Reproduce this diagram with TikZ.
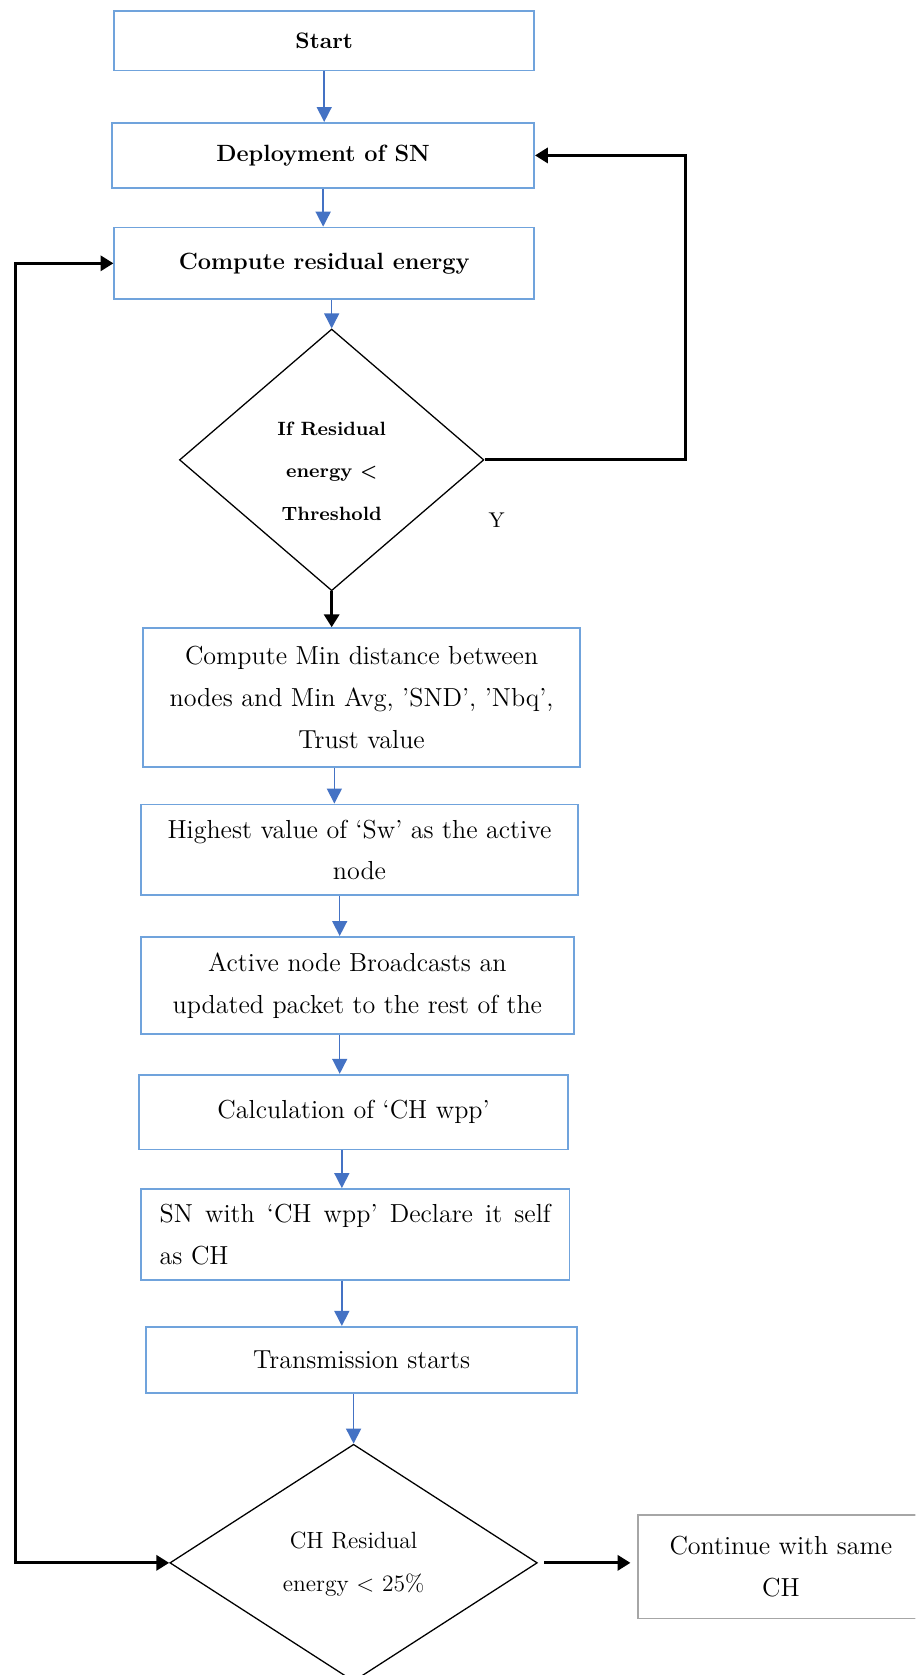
\documentclass[tikz,border=0pt]{standalone}
\usetikzlibrary{shapes.geometric,arrows.meta,calc}
\definecolor{boxblue}{RGB}{112,163,220}
\definecolor{arrblue}{RGB}{68,114,196}
\definecolor{boxgray}{RGB}{166,166,166}
\tikzset{
 box/.style={draw=boxblue,line width=0.8pt,fill=white,inner sep=0pt,align=center,font=\fontsize{12.2}{19.5}\selectfont},
 bbox/.style={box,font=\bfseries\fontsize{11}{13}\selectfont},
 dec/.style={draw=black,line width=0.6pt,shape=diamond,inner sep=0pt},
 barrow/.style={draw=arrblue,line width=0.7pt,-{Triangle[length=7pt,width=7pt]}},
 karrow/.style={draw=black,line width=1.5pt,-{Triangle[length=6pt,width=7pt]}},
 kboth/.style={draw=black,line width=1.5pt,{Triangle[length=6pt,width=7pt]}-{Triangle[length=6pt,width=7pt]}},
}
\begin{document}
\begin{tikzpicture}[x=0.5pt,y=-0.5pt]
\useasboundingbox (0,0) rectangle (857,1568);
\clip (0,0) rectangle (857,1568);
\fill[white] (0,0) rectangle (857,1568);

\node[bbox,minimum width=196.5pt,minimum height=28pt,font=\bfseries\fontsize{10.5}{12}\selectfont] (start) at (303.5,38) {Start};
\node[bbox,minimum width=197.5pt,minimum height=30.5pt] (deploy) at (302.5,145.5) {Deployment of SN};
\node[bbox,minimum width=196.5pt,minimum height=33.5pt] (compute) at (303.5,246.5) {Compute residual energy};
\node[dec,minimum width=142.5pt,minimum height=122.5pt] (d1) at (310.5,430.5) {};
\node[font=\bfseries\fontsize{9}{20}\selectfont,align=center] (d1t) at (310.5,441) {If Residual\\energy <\\Threshold};
\node[font=\fontsize{10}{12}\selectfont] (y) at (465,487) {Y};
\node[box,minimum width=204.5pt,minimum height=65pt] (b4) at (338.5,653) {Compute Min distance between\\nodes and Min Avg, ’SND’, ’Nbq’,\\Trust value};
\node[box,minimum width=204.5pt,minimum height=42.5pt] (b5) at (336.5,795.5) {Highest value of ‘Sw’ as the active\\node};
\node[box,minimum width=202.5pt,minimum height=45.5pt] (b6) at (334.5,922.5) {Active node Broadcasts an\\updated packet to the rest of the};
\node[box,minimum width=201pt,minimum height=35pt] (b7) at (331,1041) {Calculation of ‘CH wpp’};
\node[box,minimum width=200.5pt,minimum height=42.5pt,align=left] (b8) at (332.5,1155.5) {\makebox[183pt][s]{SN with ‘CH wpp’ Declare it self}\\as CH};
\node[box,minimum width=201.5pt,minimum height=31pt] (b9) at (338.5,1273) {Transmission starts};
\node[dec,minimum width=172pt,minimum height=111pt] (d2) at (331,1463) {};
\node[font=\fontsize{11}{20}\selectfont,align=center] (d2t) at (331,1464) {CH Residual\\energy < 25\%};
\node[box,draw=boxgray,minimum width=134pt,minimum height=48.5pt] (cont) at (731,1466.5) {Continue with same\\CH};

\draw[barrow] (start.south) -- (start.south |- deploy.north);
\draw[barrow] (deploy.south) -- (deploy.south |- compute.north);
\draw[barrow] (d1.north |- compute.south) -- (d1.north);
\draw[karrow] (d1.south) -- (d1.south |- b4.north);
\draw[karrow] (d1.east) -- ++(188,0) |- (deploy.east);
\draw[barrow] ($(b4.south)+(-25.5,0)$) -- ($(b5.north)+(-23.5,0)$);
\draw[barrow] ($(b5.south)+(-18.5,0)$) -- ($(b6.north)+(-16.5,0)$);
\draw[barrow] ($(b6.south)+(-16.5,0)$) -- ($(b7.north)+(-13,0)$);
\draw[barrow] ($(b7.south)+(-11,0)$) -- ($(b8.north)+(-12.5,0)$);
\draw[barrow] ($(b8.south)+(-12.5,0)$) -- ($(b9.north)+(-18.5,0)$);
\draw[barrow] (d2.north |- b9.south) -- (d2.north);
\draw[kboth] (d2.west) -- ++(-144,0) |- (compute.west);
\draw[karrow,shorten <=3pt,shorten >=3pt] (d2.east) -- (d2.east -| cont.west);
\end{tikzpicture}
\end{document}
